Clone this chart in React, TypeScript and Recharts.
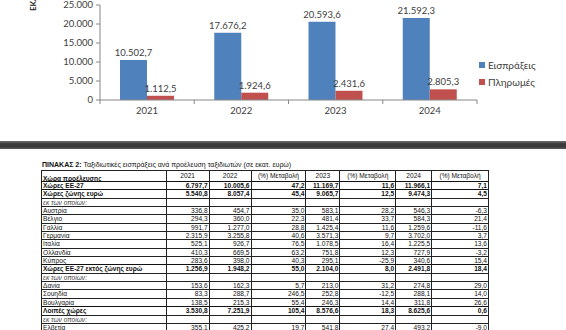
import React from 'react';
import { BarChart, Bar, XAxis, YAxis, LabelList } from 'recharts';

// chart data (εκατ. ευρώ)
const years = ['2021', '2022', '2023', '2024'];
const receipts = [10502.7, 17676.2, 20593.6, 21592.3];
const payments = [1112.5, 1924.6, 2431.6, 2805.3];
const yTicks = [0, 5000, 10000, 15000, 20000, 25000];
const seriesNames = ['Εισπράξεις', 'Πληρωμές'];
const seriesColors = ['#4F81BD', '#C0504D'];

// table data
const tableTitleBold = 'ΠΙΝΑΚΑΣ 2:';
const tableTitle = ' Ταξιδιωτικές εισπράξεις ανά προέλευση ταξιδιωτών (σε εκατ. ευρώ)';
const tableHeaders = ['Χώρα προέλευσης', '2021', '2022', '(%) Μεταβολή', '2023', '(%) Μεταβολή', '2024', '(%) Μεταβολή'];
const countries = [
  'Χώρες ΕΕ-27', 'Χώρες ζώνης ευρώ', 'εκ των οποίων:', 'Αυστρία', 'Βέλγιο', 'Γαλλία', 'Γερμανία',
  'Ιταλία', 'Ολλανδία', 'Κύπρος', 'Χώρες ΕΕ-27 εκτός ζώνης ευρώ', 'εκ των οποίων:', 'Δανία',
  'Σουηδία', 'Βουλγαρία', 'Λοιπές χώρες', 'εκ των οποίων:', 'Ελβετία',
];
const rowKinds = [
  'bold', 'bold', 'note', 'plain', 'plain', 'plain', 'plain',
  'plain', 'plain', 'plain', 'bold', 'note', 'plain',
  'plain', 'plain', 'bold', 'note', 'plain',
];
const value2021 = [6797.7, 5540.8, null, 336.8, 294.3, 991.7, 2315.9, 525.1, 410.3, 283.6, 1256.9, null, 153.6, 83.3, 138.5, 3530.8, null, 355.1];
const value2022 = [10005.6, 8057.4, null, 454.7, 360.0, 1277.0, 3255.8, 926.7, 669.5, 398.0, 1948.2, null, 162.3, 288.7, 215.3, 7251.9, null, 425.2];
const change2022 = [47.2, 45.4, null, 35.0, 22.3, 28.8, 40.6, 76.5, 63.2, 40.3, 55.0, null, 5.7, 246.5, 55.4, 105.4, null, 19.7];
const value2023 = [11169.7, 9065.7, null, 583.1, 481.4, 1425.4, 3571.3, 1078.5, 751.8, 295.1, 2104.0, null, 213.0, 252.8, 246.3, 8576.6, null, 541.8];
const change2023 = [11.6, 12.5, null, 28.2, 33.7, 11.6, 9.7, 16.4, 12.3, -25.9, 8.0, null, 31.2, -12.5, 14.4, 18.3, null, 27.4];
const value2024 = [11966.1, 9474.3, null, 546.3, 584.3, 1259.6, 3702.0, 1225.5, 727.9, 340.6, 2491.8, null, 274.8, 288.1, 311.8, 8625.6, null, 493.2];
const change2024 = [7.1, 4.5, null, -6.3, 21.4, -11.6, 3.7, 13.6, -3.2, 15.4, 18.4, null, 29.0, 14.0, 26.6, 0.6, null, -9.0];

const chartData = years.map((year, i) => ({ year, receipts: receipts[i], payments: payments[i] }));
const tableColumns = [value2021, value2022, change2022, value2023, change2023, value2024, change2024];

const fmt = (v: number, decimals: number) => {
  const [int, dec] = Math.abs(v).toFixed(decimals).split('.');
  const intPart = int.replace(/\B(?=(\d{3})+(?!\d))/g, '.');
  return (v < 0 ? '-' : '') + intPart + (dec ? ',' + dec : '');
};

const CHART_W = 566;
const CHART_H = 125;
const MARGIN = { top: 5, right: 89, bottom: 0, left: 0 };
const X_AXIS_H = 25;
const PLOT_BOTTOM = CHART_H - MARGIN.bottom - X_AXIS_H;
const AXIS_COLOR = '#868686';
const TEXT_COLOR = '#404040';
const CHART_FONT = 'Lato, "Open Sans", sans-serif';
const TABLE_FONT = '"Liberation Sans", Arial, sans-serif';

const YearTick = (props: any) => {
  const { x, payload, index } = props;
  const half = payload.offset || 0;
  return (
    <g>
      <line x1={x - half} x2={x - half} y1={PLOT_BOTTOM} y2={PLOT_BOTTOM + 4} stroke={AXIS_COLOR} />
      {index === years.length - 1 && (
        <line x1={x + half} x2={x + half} y1={PLOT_BOTTOM} y2={PLOT_BOTTOM + 4} stroke={AXIS_COLOR} />
      )}
      <text x={x} y={PLOT_BOTTOM + 14} textAnchor="middle" fontSize={9.5} fill={TEXT_COLOR} fontFamily={CHART_FONT}>
        {payload.value}
      </text>
    </g>
  );
};

const colWidths = [125, 43, 42, 55, 34, 56, 36, 57];
const ROW_H = 8.35;
const HEAD_H = 11;

const cellBase: React.CSSProperties = {
  borderTop: '1px solid #222',
  borderLeft: '1.5px solid #222',
  padding: '0 1px',
  boxSizing: 'border-box',
  overflow: 'hidden',
  whiteSpace: 'nowrap',
};

const App: React.FC = () => {
  const tableWidth = colWidths.reduce((a, b) => a + b, 0);
  return (
    <div
      style={{
        position: 'absolute',
        left: 0,
        top: 0,
        width: 566,
        height: 330,
        overflow: 'hidden',
        background: '#fff',
      }}
    >
      <div
        style={{
          position: 'absolute',
          left: 29,
          top: 11,
          transform: 'rotate(-90deg)',
          transformOrigin: '0 0',
          fontFamily: CHART_FONT,
          fontWeight: 700,
          fontSize: 8,
          lineHeight: '8px',
          whiteSpace: 'nowrap',
          color: '#222',
        }}
      >
        ΕΚΑΤ. ΕΥΡΩ
      </div>

      <BarChart width={CHART_W} height={CHART_H} data={chartData} margin={MARGIN} barGap={0} barSize={27}>
        <YAxis
          width={100}
          domain={[0, 25000]}
          ticks={yTicks}
          interval={0}
          tickFormatter={(v: number) => fmt(v, 0)}
          stroke={AXIS_COLOR}
          tickSize={4}
          tickMargin={3}
          tick={{ fontSize: 9.5, fill: TEXT_COLOR, fontFamily: CHART_FONT }}
        />
        <XAxis
          dataKey="year"
          height={X_AXIS_H}
          stroke={AXIS_COLOR}
          tickLine={false}
          tick={<YearTick />}
          interval={0}
        />
        <Bar dataKey="receipts" name={seriesNames[0]} fill={seriesColors[0]} isAnimationActive={false}>
          <LabelList
            dataKey="receipts"
            position="top"
            offset={4}
            formatter={(v: any) => fmt(Number(v), 1)}
            style={{ fontSize: 9.5, fill: TEXT_COLOR, fontFamily: CHART_FONT }}
          />
        </Bar>
        <Bar dataKey="payments" name={seriesNames[1]} fill={seriesColors[1]} isAnimationActive={false}>
          <LabelList
            dataKey="payments"
            position="top"
            offset={4}
            formatter={(v: any) => fmt(Number(v), 1)}
            style={{ fontSize: 9.5, fill: TEXT_COLOR, fontFamily: CHART_FONT }}
          />
        </Bar>
      </BarChart>

      {/* legend */}
      <div
        style={{
          position: 'absolute',
          left: 479,
          top: 57,
          fontFamily: CHART_FONT,
          fontSize: 10,
          color: TEXT_COLOR,
        }}
      >
        {seriesNames.map((name, i) => (
          <div key={name} style={{ display: 'flex', alignItems: 'center', height: 16.5 }}>
            <span style={{ width: 6, height: 6, background: seriesColors[i], marginRight: 3, display: 'inline-block' }} />
            <span>{name}</span>
          </div>
        ))}
      </div>

      <div
        style={{
          position: 'absolute',
          left: 0,
          top: 141,
          width: 566,
          height: 8,
          background: 'linear-gradient(#707070, #3c3c3c 35%, #3a3a3a 70%, #5c5c5c)',
        }}
      />

      <div
        style={{
          position: 'absolute',
          left: 42,
          top: 161,
          fontFamily: TABLE_FONT,
          fontSize: 7,
          lineHeight: '8px',
          whiteSpace: 'nowrap',
          color: '#111',
        }}
      >
        <b>{tableTitleBold}</b>
        {tableTitle}
      </div>

      {/* table built from fixed-height rows so the row pitch stays exact */}
      <div
        style={{
          position: 'absolute',
          left: 41,
          top: 170,
          width: tableWidth,
          fontFamily: TABLE_FONT,
          fontSize: 6.6,
          color: '#111',
          borderRight: '1.5px solid #222',
          borderBottom: '1px solid #222',
          boxSizing: 'border-box',
        }}
      >
        <div style={{ display: 'flex', height: HEAD_H }}>
          {tableHeaders.map((h, i) => (
            <div
              key={i}
              style={{
                ...cellBase,
                width: colWidths[i],
                textAlign: i === 0 ? 'left' : 'center',
                fontWeight: i === 0 ? 700 : 400,
                lineHeight: i === 0 ? `${HEAD_H + 5}px` : `${HEAD_H - 2}px`,
              }}
            >
              {h}
            </div>
          ))}
        </div>
        {countries.map((name, r) => {
          const kind = rowKinds[r];
          const bold = kind === 'bold';
          const topBorder = r === 0 || bold ? '1.5px solid #111' : cellBase.borderTop;
          return (
            <div key={r} style={{ display: 'flex', height: ROW_H, lineHeight: `${ROW_H - 1}px` }}>
              <div
                style={{
                  ...cellBase,
                  width: colWidths[0],
                  fontWeight: bold ? 700 : 400,
                  fontStyle: kind === 'note' ? 'italic' : 'normal',
                  color: kind === 'note' ? '#444' : '#111',
                  borderTop: topBorder,
                }}
              >
                {name}
              </div>
              {tableColumns.map((col, c) => {
                const v = col[r];
                return (
                  <div
                    key={c}
                    style={{
                      ...cellBase,
                      width: colWidths[c + 1],
                      textAlign: 'right',
                      fontWeight: bold ? 700 : 400,
                      borderTop: topBorder,
                    }}
                  >
                    {v === null ? '' : fmt(v, 1)}
                  </div>
                );
              })}
            </div>
          );
        })}
      </div>
    </div>
  );
};

export default App;
